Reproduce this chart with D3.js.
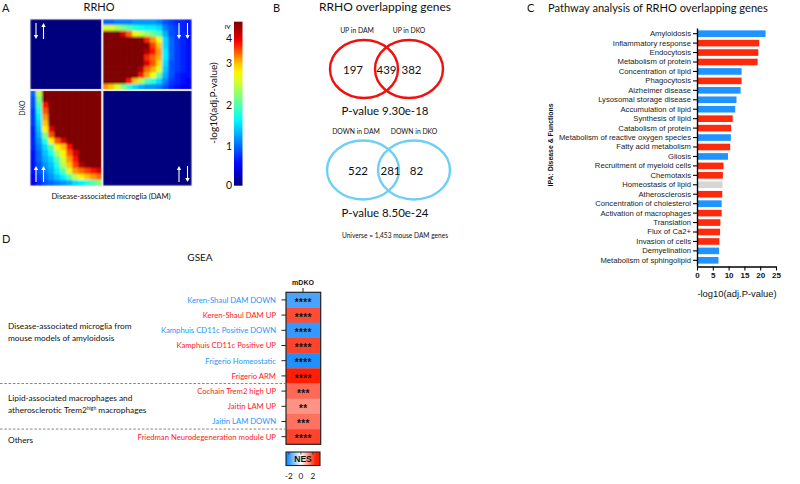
<!DOCTYPE html>
<html>
<head>
<meta charset="utf-8">
<script src="https://cdn.jsdelivr.net/npm/d3@7"></script>
<style>
  body { margin: 0; background: #fff; }
  text { font-family: Lato, "Open Sans", sans-serif; fill: #111; }
  .sans text, text.sans { font-family: "Liberation Sans", Arial, sans-serif; }
</style>
</head>
<body>
<div id="fig"></div>
<script>
// ---- A: RRHO heatmap values (-log10 adj. P) ----
const rrhoTicks = [0, 1, 2, 3, 4];
// top-right quadrant (down in DAM / down in DKO), rows top -> bottom
const rrhoDownDown = [
  [1.0, 1.0, 1.1, 1.1, 1.1, 1.2, 1.2, 1.2, 1.2, 1.1, 0.9, 0.8, 0.7, 0.7, 0.6],
  [2.6, 2.6, 2.4, 2.2, 2.0, 1.8, 1.7, 1.6, 1.6, 1.5, 1.1, 0.9, 0.8, 0.7, 0.6],
  [4.4, 4.4, 4.4, 4.0, 3.4, 2.8, 2.5, 2.3, 2.1, 1.9, 1.3, 0.9, 0.8, 0.7, 0.6],
  [4.4, 4.4, 4.4, 4.4, 4.4, 4.4, 4.4, 3.7, 3.2, 2.7, 1.5, 1.0, 0.8, 0.7, 0.6],
  [4.4, 4.4, 4.4, 4.4, 4.4, 4.4, 4.4, 4.4, 3.6, 3.0, 1.5, 1.0, 0.8, 0.7, 0.6],
  [4.4, 4.4, 4.4, 4.4, 4.4, 4.4, 4.4, 4.2, 3.8, 3.2, 1.6, 1.0, 0.8, 0.7, 0.6],
  [4.4, 4.4, 4.4, 4.4, 4.4, 4.4, 4.4, 3.7, 3.4, 3.1, 1.6, 1.0, 0.8, 0.7, 0.6],
  [4.4, 4.4, 4.4, 4.4, 4.4, 4.4, 4.4, 4.0, 3.5, 2.9, 1.5, 0.9, 0.8, 0.7, 0.6],
  [4.4, 4.4, 4.4, 4.4, 4.4, 4.4, 4.2, 3.4, 3.1, 2.6, 1.4, 0.9, 0.8, 0.7, 0.6],
  [4.4, 4.4, 4.4, 4.4, 4.4, 4.4, 3.8, 3.1, 2.7, 2.1, 1.3, 0.9, 0.7, 0.6, 0.6],
  [4.4, 4.4, 4.4, 4.4, 3.8, 3.0, 2.4, 2.0, 1.8, 1.5, 1.1, 0.8, 0.7, 0.6, 0.5],
  [3.2, 3.0, 2.6, 2.2, 1.8, 1.5, 1.3, 1.2, 1.2, 1.1, 0.9, 0.7, 0.6, 0.5, 0.5]
];
// bottom-left quadrant (up in DAM / up in DKO)
const rrhoUpUp = [
  [1.0, 2.5, 4.4, 4.4, 4.4, 4.4, 4.4, 4.4, 4.4, 4.4, 4.4, 4.4],
  [0.9, 2.2, 4.4, 4.4, 4.4, 4.4, 4.4, 4.4, 4.4, 4.4, 4.4, 4.4],
  [0.9, 2.0, 3.8, 4.4, 4.4, 4.4, 4.4, 4.4, 4.4, 4.4, 4.4, 4.4],
  [0.8, 1.8, 3.5, 4.4, 4.4, 4.4, 4.4, 4.4, 4.4, 4.4, 4.4, 4.4],
  [0.8, 1.6, 3.2, 4.4, 4.4, 4.4, 4.4, 4.4, 4.4, 4.4, 4.4, 4.4],
  [0.8, 1.5, 3.0, 4.4, 4.4, 4.4, 4.4, 4.4, 4.4, 4.4, 4.4, 4.4],
  [0.7, 1.4, 2.8, 4.0, 4.4, 4.4, 4.4, 4.4, 4.4, 4.4, 4.4, 4.4],
  [0.7, 1.3, 2.2, 3.5, 4.4, 4.4, 4.4, 4.4, 4.4, 4.4, 4.4, 4.4],
  [0.7, 1.2, 1.8, 2.8, 3.5, 4.0, 4.4, 4.4, 4.4, 4.4, 4.4, 4.4],
  [0.7, 1.1, 1.5, 2.0, 2.8, 3.0, 3.8, 4.4, 4.4, 4.4, 4.4, 4.4],
  [0.6, 1.0, 1.4, 1.7, 2.4, 2.8, 3.5, 4.0, 4.4, 4.4, 4.4, 4.4],
  [0.6, 1.0, 1.3, 1.5, 2.0, 2.6, 3.2, 3.8, 4.4, 4.4, 4.4, 4.4],
  [0.6, 0.9, 1.2, 1.4, 1.8, 2.4, 3.0, 3.6, 4.2, 4.4, 4.4, 4.4],
  [0.6, 0.9, 1.1, 1.3, 1.6, 2.0, 2.6, 3.2, 3.4, 3.6, 3.8, 4.0],
  [0.5, 0.8, 1.0, 1.2, 1.4, 1.6, 2.0, 2.5, 2.8, 3.0, 3.2, 3.4],
  [0.4, 0.7, 0.9, 1.0, 1.1, 1.2, 1.3, 1.5, 1.6, 1.8, 2.0, 2.2]
];
const rrhoUpDown = [[0]];
const rrhoDownUp = [[0]];
// arrows per quadrant: [DAM, DKO]
const rrhoArrows = [["down", "up"], ["down", "down"], ["up", "up"], ["up", "down"]];

// ---- B: Venn counts ----
const vennUpLabels = ["UP in DAM", "UP in DKO"];
const vennUpCounts = [197, 439, 382];
const vennUpP = "P-value 9.30e-18";
const vennDownLabels = ["DOWN in DAM", "DOWN in DKO"];
const vennDownCounts = [522, 281, 82];
const vennDownP = "P-value 8.50e-24";
const vennUniverse = "Universe = 1,453 mouse DAM genes";

// ---- C: IPA pathways ----
const pathwayNames = [
  "Amyloidosis", "Inflammatory response", "Endocytosis", "Metabolism of protein",
  "Concentration of lipid", "Phagocytosis", "Alzheimer disease", "Lysosomal storage disease",
  "Accumulation of lipid", "Synthesis of lipid", "Catabolism of protein",
  "Metabolism of reactive oxygen species", "Fatty acid metabolism", "Gliosis",
  "Recruitment of myeloid cells", "Chemotaxis", "Homeostasis of lipid", "Atherosclerosis",
  "Concentration of cholesterol", "Activation of macrophages", "Translation",
  "Flux of Ca2+", "Invasion of cells", "Demyelination", "Metabolism of sphingolipid"
];
const pathwayValues = [21.7, 19.7, 19.4, 19.2, 14.1, 14.1, 13.8, 12.5, 12.1, 11.3, 10.8,
  10.7, 10.5, 9.8, 8.4, 8.2, 8.1, 8.0, 7.8, 7.8, 7.4, 7.3, 7.1, 7.0, 6.8];
const pathwayDirection = ["down", "up", "up", "up", "down", "up", "down", "down", "down", "up", "up",
  "down", "up", "down", "up", "up", "none", "up", "down", "up", "up", "up", "up", "down", "down"];
const pathwayTicks = [0, 5, 10, 15, 20, 25];

// ---- D: GSEA ----
const gseaSets = [
  "Keren-Shaul DAM DOWN", "Keren-Shaul DAM UP", "Kamphuis CD11c Positive DOWN",
  "Kamphuis CD11c Positive UP", "Frigerio Homeostatic", "Frigerio ARM",
  "Cochain Trem2 high UP", "Jaitin LAM UP", "Jaitin LAM DOWN",
  "Friedman Neurodegeneration module UP"
];
const gseaSetDirection = ["down", "up", "down", "up", "down", "up", "up", "up", "down", "up"];
const gseaNES = [-1.7, 1.9, -1.9, 2.0, -2.1, 2.4, 1.6, 1.15, 1.5, 2.0];
const gseaStars = ["****", "****", "****", "****", "****", "****", "***", "**", "***", "****"];
const gseaGroupRows = [[0, 5], [6, 8], [9, 9]];
const nesTicks = [-2, 0, 2];

const W = 800, H = 484;
const svg = d3.select("#fig").append("svg").attr("width", W).attr("height", H);
svg.append("rect").attr("width", W).attr("height", H).attr("fill", "#fff");
const defs = svg.append("defs");

const RED = "#ff1a1a", BLUE = "#1e96ff";

// ================= Panel A =================
const jet = d3.scaleLinear()
  .domain(d3.range(9).map(i => i * 4.4 / 8))
  .range(["#00007f", "#0000ff", "#007fff", "#00ffff", "#7fff7f", "#ffff00", "#ff7f00", "#ff0000", "#7f0000"])
  .clamp(true);

const hm = { x0: 30, xm: 102.3, x1: 192, y0: 19, ym: 90, y1: 186 };
const gA = svg.append("g");
svg.append("text").attr("x", 2).attr("y", 12).attr("font-size", 11).text("A");
svg.append("text").attr("x", 99).attr("y", 11).attr("font-size", 11).attr("text-anchor", "middle").text("RRHO");

defs.append("filter").attr("id", "soft").attr("x", 0).attr("y", 0).attr("width", 1).attr("height", 1)
  .append("feGaussianBlur").attr("stdDeviation", 1.1).attr("edgeMode", "duplicate");

const quads = [
  { grid: rrhoUpDown, x: [hm.x0, hm.xm], y: [hm.y0, hm.ym] },
  { grid: rrhoDownDown, x: [hm.xm, hm.x1], y: [hm.y0, hm.ym] },
  { grid: rrhoUpUp, x: [hm.x0, hm.xm], y: [hm.ym, hm.y1] },
  { grid: rrhoDownUp, x: [hm.xm, hm.x1], y: [hm.ym, hm.y1] }
];
quads.forEach((q, qi) => {
  const cols = d3.scaleBand().domain(d3.range(q.grid[0].length)).range(q.x);
  const rows = d3.scaleBand().domain(d3.range(q.grid.length)).range(q.y);
  const g = gA.append("g").attr("filter", "url(#soft)");
  q.grid.forEach((row, r) => row.forEach((v, c) => {
    g.append("rect")
      .attr("x", cols(c)).attr("y", rows(r))
      .attr("width", Math.min(cols.bandwidth() + 0.6, q.x[1] - cols(c)))
      .attr("height", Math.min(rows.bandwidth() + 0.6, q.y[1] - rows(r)))
      .attr("fill", jet(v));
  }));

  // white arrows in the corner
  const right = qi % 2 === 1, bottom = qi >= 2;
  rrhoArrows[qi].forEach((dir, k) => {
    const ax = right ? q.x[1] - 13 + k * 8.5 : q.x[0] + 6 + k * 7.5;
    const ya = bottom ? q.y[1] - 20 : q.y[0] + 4;
    const yb = ya + 16;
    const tip = dir === "up" ? ya : yb;
    const tail = dir === "up" ? yb : ya;
    const s = dir === "up" ? 1 : -1;
    gA.append("line").attr("x1", ax).attr("x2", ax).attr("y1", tail).attr("y2", tip + s * 3)
      .attr("stroke", "#fff").attr("stroke-width", 1.1);
    gA.append("path").attr("d", `M${ax - 2.2},${tip + s * 4}L${ax},${tip}L${ax + 2.2},${tip + s * 4}Z`)
      .attr("fill", "#fff");
  });
});
// dividers
gA.append("line").attr("x1", hm.xm).attr("x2", hm.xm).attr("y1", hm.y0).attr("y2", hm.y1)
  .attr("stroke", "#e6e6e6").attr("stroke-width", 2);
gA.append("line").attr("x1", hm.x0).attr("x2", hm.x1).attr("y1", hm.ym).attr("y2", hm.ym)
  .attr("stroke", "#e6e6e6").attr("stroke-width", 2);
gA.append("rect").attr("x", hm.x0).attr("y", hm.y0).attr("width", hm.x1 - hm.x0).attr("height", hm.y1 - hm.y0)
  .attr("fill", "none").attr("stroke", "#ddd").attr("stroke-width", 0.6);

svg.append("text").attr("transform", `translate(25,108) rotate(-90)`).attr("font-size", 7)
  .attr("text-anchor", "middle").text("DKO");
svg.append("text").attr("x", 111).attr("y", 199).attr("font-size", 7.6)
  .attr("text-anchor", "middle").text("Disease-associated microglia (DAM)");

// colorbar
const cb = { x: 234, w: 8.5 };
const cbScale = d3.scaleLinear().domain([0, 1, 2, 3, 4, 4.4]).range([185.7, 146.5, 105, 63.5, 38, 21.7]);
const grad = defs.append("linearGradient").attr("id", "jetGrad")
  .attr("x1", 0).attr("x2", 0).attr("y1", 1).attr("y2", 0);
d3.range(0, 4.41, 0.2).forEach(v => {
  grad.append("stop").attr("offset", (185.7 - cbScale(v)) / (185.7 - 21.7)).attr("stop-color", jet(v));
});
svg.append("rect").attr("x", cb.x).attr("y", 21.7).attr("width", cb.w).attr("height", 164)
  .attr("fill", "url(#jetGrad)");
rrhoTicks.forEach(t => {
  svg.append("text").attr("x", 232).attr("y", cbScale(t) + 3.6).attr("font-size", 10.5)
    .attr("text-anchor", "end").text(t);
});
svg.append("text").attr("transform", `translate(228,27) rotate(90)`).attr("font-size", 10)
  .attr("text-anchor", "middle").attr("dy", "0.35em").text("≥");
svg.append("text").attr("transform", `translate(217,103) rotate(-90)`).attr("font-size", 10)
  .attr("text-anchor", "middle").text("-log10(adj.P-value)");

// ================= Panel B =================
svg.append("text").attr("x", 273).attr("y", 12).attr("font-size", 11).text("B");
svg.append("text").attr("x", 385).attr("y", 11).attr("font-size", 12).attr("text-anchor", "middle")
  .text("RRHO overlapping genes");

function venn(cy, cxs, rx, ry, color, labels, counts, pText, labelY, countXs) {
  cxs.forEach((cx, i) => {
    svg.append("ellipse").attr("cx", cx).attr("cy", cy).attr("rx", rx).attr("ry", ry)
      .attr("fill", "none").attr("stroke", color).attr("stroke-width", 2.4);
    svg.append("text").attr("x", cx + (i === 0 ? -7 : 0)).attr("y", labelY).attr("font-size", 6.8)
      .attr("text-anchor", "middle").text(labels[i]);
  });
  counts.forEach((n, i) => {
    svg.append("text").attr("x", countXs[i]).attr("y", cy + 4.5).attr("font-size", 11.5)
      .attr("text-anchor", "middle").text(n);
  });
  svg.append("text").attr("x", 385).attr("y", cy + ry + 17).attr("font-size", 11.5)
    .attr("text-anchor", "middle").text(pText);
}
venn(69, [364, 409], 34, 29, "#f01010", vennUpLabels, vennUpCounts, vennUpP, 33, [353, 386.5, 411.5]);
venn(170, [363, 414], 36, 29.5, "#6dcff6", vennDownLabels, vennDownCounts, vennDownP, 134, [358, 390.5, 416.5]);
svg.append("text").attr("x", 395).attr("y", 237.5).attr("font-size", 6.6).attr("text-anchor", "middle")
  .text(vennUniverse);

// ================= Panel C =================
svg.append("text").attr("x", 527).attr("y", 12).attr("font-size", 11).text("C");
svg.append("text").attr("x", 548).attr("y", 12).attr("font-size", 11.1)
  .text("Pathway analysis of RRHO overlapping genes");

const gC = svg.append("g").attr("class", "sans");
const xC = d3.scaleLinear().domain([0, 25]).range([697, 776]);
const yC = d3.scaleBand().domain(pathwayNames).range([28, 266]).paddingInner(0.3).paddingOuter(0.25);
const dirColor = { up: "#ff2a0c", down: "#1f93ff", none: "#d6d6d6" };

gC.selectAll("rect.bar").data(pathwayNames).join("rect").attr("class", "bar")
  .attr("x", xC(0)).attr("y", d => yC(d))
  .attr("width", (d, i) => xC(pathwayValues[i]) - xC(0))
  .attr("height", yC.bandwidth())
  .attr("fill", (d, i) => dirColor[pathwayDirection[i]]);

const axL = gC.append("g").attr("transform", `translate(${xC(0)},0)`)
  .call(d3.axisLeft(yC).tickSize(4).tickSizeOuter(0).tickPadding(2));
axL.select(".domain").attr("stroke-width", 1.4);
axL.selectAll(".tick line").attr("stroke-width", 1.1);
axL.selectAll("text").attr("font-size", 7.7).style("fill", "#222");

const axB = gC.append("g").attr("transform", `translate(0,266.5)`)
  .call(d3.axisBottom(xC).tickValues(pathwayTicks).tickSize(4).tickSizeOuter(0).tickPadding(2));
axB.select(".domain").attr("stroke-width", 1.4);
axB.selectAll(".tick line").attr("stroke-width", 1.1);
axB.selectAll("text").attr("font-size", 8).attr("font-weight", "bold");
gC.append("text").attr("x", 737).attr("y", 297).attr("font-size", 9.4).attr("text-anchor", "middle")
  .text("-log10(adj.P-value)");
gC.append("text").attr("transform", `translate(553,145) rotate(-90)`).attr("font-size", 6.9)
  .attr("font-weight", "bold").attr("text-anchor", "middle").text("IPA: Disease & Functions");

// ================= Panel D =================
svg.append("text").attr("x", 2).attr("y", 243).attr("font-size", 11).text("D");
svg.append("text").attr("x", 200).attr("y", 261).attr("font-size", 10).attr("text-anchor", "middle").text("GSEA");

const yD = d3.scaleBand().domain(d3.range(gseaSets.length)).range([292.3, 444.3]);
const xCell = [286, 320.7];
const nesColor = d3.scaleLinear().domain([-2.4, 0, 2.4]).range(["#007fff", "#ffffff", "#ff1e00"]).clamp(true);
const gD = svg.append("g");

gseaSets.forEach((name, i) => {
  const y = yD(i), h = yD.bandwidth();
  gD.append("rect").attr("x", xCell[0]).attr("y", y).attr("width", xCell[1] - xCell[0]).attr("height", h + 0.3)
    .attr("fill", nesColor(gseaNES[i]));
  gD.append("text").attr("class", "sans").attr("x", (xCell[0] + xCell[1]) / 2).attr("y", y + h / 2 + 5.6)
    .attr("font-size", 10).attr("font-weight", "bold").attr("letter-spacing", 0.4)
    .attr("text-anchor", "middle").text(gseaStars[i]);
  gD.append("line").attr("x1", xCell[0] - 4.5).attr("x2", xCell[0]).attr("y1", y + h / 2).attr("y2", y + h / 2)
    .attr("stroke", "#222").attr("stroke-width", 1);
  gD.append("text").attr("x", 276).attr("y", y + h / 2 + 2.8).attr("font-size", 7.7)
    .attr("text-anchor", "end").style("fill", gseaSetDirection[i] === "up" ? RED : BLUE).text(name);
});
gD.append("rect").attr("x", xCell[0]).attr("y", yD.range()[0]).attr("width", xCell[1] - xCell[0])
  .attr("height", yD.range()[1] - yD.range()[0]).attr("fill", "none").attr("stroke", "#222").attr("stroke-width", 1.2);
gD.append("text").attr("class", "sans").attr("x", 303).attr("y", 285).attr("font-size", 7)
  .attr("font-weight", "bold").attr("text-anchor", "middle").text("mDKO");
gD.append("line").attr("x1", 303).attr("x2", 303).attr("y1", 288).attr("y2", 292.3)
  .attr("stroke", "#222").attr("stroke-width", 1);

// group separators and labels
gseaGroupRows.forEach(([a, b], gi) => {
  if (gi > 0) {
    gD.append("line").attr("x1", 0).attr("x2", xCell[0]).attr("y1", yD(a)).attr("y2", yD(a))
      .attr("stroke", "#777").attr("stroke-width", 0.9).attr("stroke-dasharray", "2.5,1.8");
  }
});
const grpCenter = gi => (yD(gseaGroupRows[gi][0]) + yD(gseaGroupRows[gi][1]) + yD.bandwidth()) / 2;
gD.append("text").attr("x", 8).attr("y", grpCenter(0) - 8.5).attr("font-size", 8.3).text("Disease-associated microglia from");
gD.append("text").attr("x", 8).attr("y", grpCenter(0) + 2.6).attr("font-size", 8.3).text("mouse models of amyloidosis");
gD.append("text").attr("x", 8).attr("y", grpCenter(1) - 5.3).attr("font-size", 8.3).text("Lipid-associated macrophages and");
const t2 = gD.append("text").attr("x", 8).attr("y", grpCenter(1) + 6.3).attr("font-size", 8.3);
t2.append("tspan").text("atherosclerotic Trem2");
t2.append("tspan").attr("font-size", 5).attr("dy", -3).text("high");
t2.append("tspan").attr("dy", 3).text(" macrophages");
gD.append("text").attr("x", 8).attr("y", grpCenter(2) + 6.3).attr("font-size", 8.3).text("Others");

// NES legend
const xN = d3.scaleLinear().domain([-2.5, 3.2]).range([286, 320]);
const ng = defs.append("linearGradient").attr("id", "nesGrad");
d3.range(-2.5, 3.21, 0.3).forEach(v => {
  ng.append("stop").attr("offset", (xN(v) - 286) / 34).attr("stop-color", nesColor(v * 0.95));
});
gD.append("rect").attr("x", 286).attr("y", 452).attr("width", 34).attr("height", 13.5)
  .attr("fill", "url(#nesGrad)").attr("stroke", "#222").attr("stroke-width", 1.1);
nesTicks.forEach(t => {
  gD.append("line").attr("x1", xN(t)).attr("x2", xN(t)).attr("y1", 452).attr("y2", 454.5)
    .attr("stroke", "#222").attr("stroke-width", 0.8);
  gD.append("text").attr("x", xN(t)).attr("y", 479).attr("font-size", 8.2).attr("text-anchor", "middle").text(t);
});
gD.append("text").attr("class", "sans").attr("x", 303).attr("y", 462).attr("font-size", 8.5)
  .attr("font-weight", "bold").attr("text-anchor", "middle").text("NES");
</script>
</body>
</html>
